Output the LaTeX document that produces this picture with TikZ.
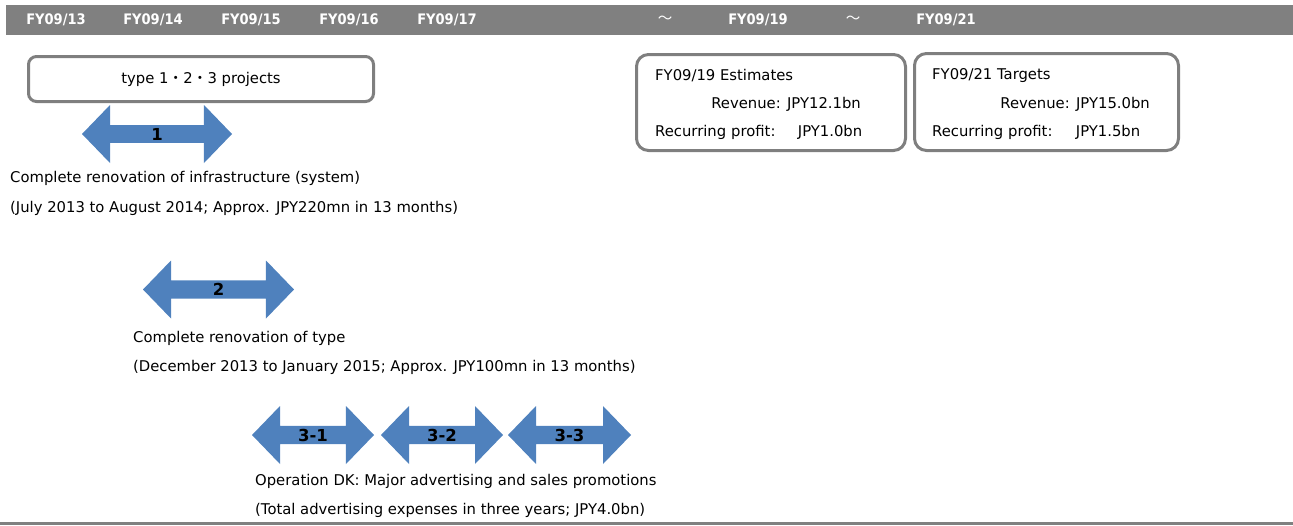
\documentclass[tikz,border=0pt]{standalone}
\usepackage{fontspec}
\setmainfont{DejaVu Sans}
\newfontfamily\condfont{DejaVu Sans Condensed}
\newfontfamily\cjk{Noto Sans CJK JP}
\usetikzlibrary{positioning, shapes.arrows}
\definecolor{barGray}{HTML}{808080}
\definecolor{boxGray}{HTML}{7F7F7F}
\definecolor{spanBlue}{HTML}{4F81BD}

\begin{document}
\begin{tikzpicture}[
        x=1pt, y=-1pt,
        year/.style = {text=white, inner sep=0pt, font=\condfont\fontsize{14.5}{16}\selectfont\bfseries},
        note/.style = {anchor=west, inner sep=0pt, font=\fontsize{14.8}{17}\selectfont},
        plan/.style = {draw=boxGray, line width=3pt, rounded corners=8pt, inner sep=0pt},
        span/.style = {double arrow, fill=spanBlue, inner sep=0pt, minimum width=58pt,
                       double arrow head extend=14pt, double arrow tip angle=92,
                       font=\fontsize{16.5}{18}\selectfont\bfseries},
    ]
        \useasboundingbox (0,0) rectangle (1293,525);

        % year bar
        \fill[barGray] (6,5) rectangle (1293,35);
        \foreach \yr/\xx in {13/56, 14/153, 15/251, 16/349, 17/447, 19/758, 21/946}
            \node[year] (fy\yr) at (\xx,20) {FY09/\yr};
        \node[year] (gapA) at (665,20) {\cjk\mdseries ～};
        \node[year] (gapB) at (853,20) {\cjk\mdseries ～};

        % projects
        \node[plan, minimum width=345pt, minimum height=45pt, font=\fontsize{14.8}{17}\selectfont]
            (types) at (201,79) {type 1{\cjk ・}2{\cjk ・}3 projects};

        \node[span, minimum height=150pt] (p1) at (157,134) {1};
        \node[note] (p1a) at (10,178) {Complete renovation of infrastructure (system)};
        \node[note] (p1b) at (10,208) {(July 2013 to August 2014; Approx. JPY220mn in 13 months)};

        \node[span, minimum height=151pt] (p2) at (218.5,289.5) {2};
        \node[note] (p2a) at (133,338) {Complete renovation of type};
        \node[note] (p2b) at (133,367) {(December 2013 to January 2015; Approx. JPY100mn in 13 months)};

        \node[span, minimum height=122pt] (p31) at (313,435) {3-1};
        \node[span, minimum height=122pt] (p32) at (442,435) {3-2};
        \node[span, minimum height=123pt] (p33) at (569.5,435) {3-3};
        \node[note] (p3a) at (255,481) {Operation DK: Major advertising and sales promotions};
        \node[note] (p3b) at (255,510) {(Total advertising expenses in three years; JPY4.0bn)};

        % estimates and targets
        \node[plan, rounded corners=12pt, minimum width=269pt, minimum height=96pt] (est) at (771,102.5) {};
        \node[note] (estT) at (655,76) {FY09/19 Estimates};
        \node[note, anchor=east] (estR) at (861,104) {Revenue: JPY12.1bn};
        \node[note, text width=207pt] (estP) at (655,132) {Recurring profit:\hfill JPY1.0bn};

        \node[plan, rounded corners=12pt, minimum width=264pt, minimum height=97pt] (tgt) at (1046.5,102) {};
        \node[note] (tgtT) at (932,76) {FY09/21 Targets};
        \node[note, anchor=east] (tgtR) at (1150,104) {Revenue: JPY15.0bn};
        \node[note, text width=208pt] (tgtP) at (932,132) {Recurring profit:\hfill JPY1.5bn};

        % bottom rule
        \fill[barGray] (0,521.5) rectangle (1293,525);
    \end{tikzpicture}
\end{document}
